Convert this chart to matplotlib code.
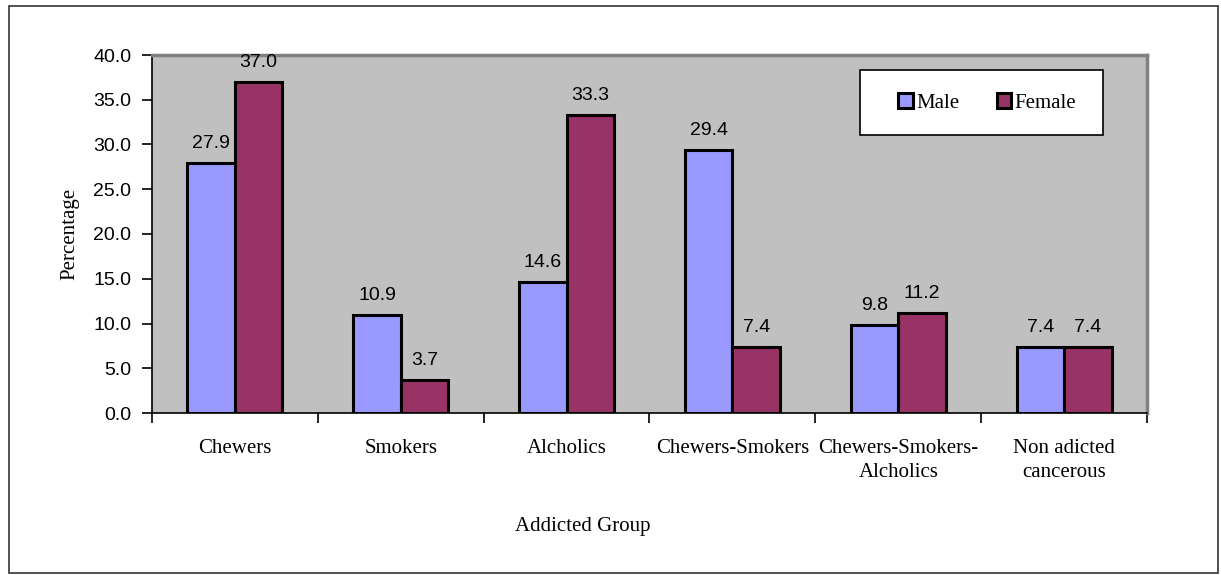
import matplotlib
matplotlib.use('Agg')
import matplotlib.pyplot as plt
import numpy as np

# data
categories = ['Chewers', 'Smokers', 'Alcholics', 'Chewers-Smokers',
              'Chewers-Smokers-\nAlcholics', 'Non adicted\ncancerous']
male = [27.9, 10.9, 14.6, 29.4, 9.8, 7.4]
female = [37.0, 3.7, 33.3, 7.4, 11.2, 7.4]
yticks = [0, 5, 10, 15, 20, 25, 30, 35, 40]

serif = 'Liberation Serif'
sans = 'Liberation Sans'

fig = plt.figure(figsize=(12.21, 5.75), dpi=100)
ax = fig.add_axes([152/1221, 1 - 413/575, 995/1221, 358/575])
ax.set_facecolor('#C0C0C0')

x = np.arange(len(categories))
w = 0.286
b1 = ax.bar(x - w/2, male, w, color='#9999FF', edgecolor='black', linewidth=2.2, label='Male')
b2 = ax.bar(x + w/2, female, w, color='#993366', edgecolor='black', linewidth=2.2, label='Female')

for bars in (b1, b2):
    for r in bars:
        ax.annotate('{0:.1f}'.format(r.get_height()),
                    (r.get_x() + r.get_width()/2, r.get_height()),
                    xytext=(0, 8), textcoords='offset points',
                    ha='center', va='bottom', fontsize=14, family=sans)

ax.set_xlim(-0.5, len(categories) - 0.5)
ax.set_ylim(0, 40)
ax.set_yticks(yticks)
ax.set_yticklabels(['{0:.1f}'.format(v) for v in yticks], fontsize=14, family=sans)
ax.set_xticks(np.arange(len(categories) + 1) - 0.5)
ax.set_xticklabels([])
ax.set_xticks(x, minor=True)
ax.set_xticklabels(categories, minor=True, fontsize=15, family=serif, linespacing=1.35)
ax.tick_params(axis='x', which='minor', length=0, pad=19)
ax.tick_params(axis='x', which='major', direction='out', length=7, width=1.2)
ax.tick_params(axis='y', direction='out', length=7, width=1.2, pad=8)

for s in ['top', 'right']:
    ax.spines[s].set_color('#808080')
    ax.spines[s].set_linewidth(2.5)
for s in ['left', 'bottom']:
    ax.spines[s].set_color('black')
    ax.spines[s].set_linewidth(1.2)

ax.set_ylabel('Percentage', fontsize=15, family=serif, labelpad=10)
fig.text(583/1221, 1 - 527/575, 'Addicted Group', ha='center', va='center',
         fontsize=15, family=serif)

# legend box drawn separately, entries centred inside it
box = matplotlib.patches.Rectangle((860/1221, 1 - 135/575), 243/1221, 65/575,
                                   transform=fig.transFigure, facecolor='white',
                                   edgecolor='black', linewidth=1.2, zorder=5)
ax.add_artist(box)
box.set_clip_on(False)
leg = ax.legend(loc='center', bbox_to_anchor=(987/1221, 1 - 103/575),
                bbox_transform=fig.transFigure, ncol=2, frameon=False,
                prop={'family': serif, 'size': 15}, handlelength=0.7,
                handleheight=0.7, handletextpad=0.15, columnspacing=1.8)
leg.set_zorder(6)

fig.patches.append(matplotlib.patches.Rectangle((9/1221, 2/575), 1209/1221, 567/575,
                                                transform=fig.transFigure, fill=False,
                                                edgecolor='#333333', linewidth=1.2))

fig.savefig('out.png', dpi=100, facecolor='white')
